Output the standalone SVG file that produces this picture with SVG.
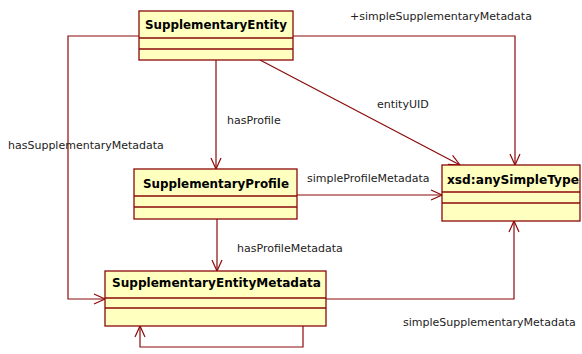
<svg xmlns="http://www.w3.org/2000/svg" width="582" height="354" viewBox="0 0 582 354">
<style>
.box{fill:#FFFFC0;stroke:#8B0A0A;stroke-width:1.3}
.sep{stroke:#8B0A0A;stroke-width:1.3}
.title{font-family:"DejaVu Sans",Verdana,sans-serif;font-size:11.5px;font-weight:bold;fill:#000;text-anchor:middle}
.lbl{font-family:"DejaVu Sans",Verdana,sans-serif;font-size:11px;fill:#222}
.conn{fill:none;stroke:#8B0A0A;stroke-width:1.2}
</style>
<defs>
<marker id="arr" markerUnits="userSpaceOnUse" markerWidth="14" markerHeight="14" viewBox="-12 -7 14 14" refX="0" refY="0" orient="auto">
<path d="M-11,-5 L0,0 L-11,5" fill="none" stroke="#8B0A0A" stroke-width="1.2"/>
</marker>
</defs>
<rect width="582" height="354" fill="#fff"/>
<g id="connectors">
<polyline class="conn" points="139,36 68,36 68,299 105,299" marker-end="url(#arr)"/>
<line class="conn" x1="216" y1="60" x2="216" y2="169" marker-end="url(#arr)"/>
<line class="conn" x1="260" y1="60" x2="460" y2="165" marker-end="url(#arr)"/>
<polyline class="conn" points="293,36 515,36 515,165" marker-end="url(#arr)"/>
<line class="conn" x1="297" y1="195" x2="442" y2="195" marker-end="url(#arr)"/>
<line class="conn" x1="217" y1="219" x2="217" y2="271" marker-end="url(#arr)"/>
<polyline class="conn" points="326,299 514,299 514,221" marker-end="url(#arr)"/>
<polyline class="conn" points="303,326 303,347 140,347 140,326" marker-end="url(#arr)"/>
<text class="lbl" x="8" y="149">hasSupplementaryMetadata</text>
<text class="lbl" x="227" y="124">hasProfile</text>
<text class="lbl" x="377" y="108">entityUID</text>
<text class="lbl" x="350" y="20">+simpleSupplementaryMetadata</text>
<text class="lbl" x="307" y="182">simpleProfileMetadata</text>
<text class="lbl" x="237" y="252">hasProfileMetadata</text>
<text class="lbl" x="403" y="326">simpleSupplementaryMetadata</text>
</g>
<g id="SupplementaryEntity">
<rect class="box" x="139" y="11" width="154" height="49"/>
<line class="sep" x1="139" y1="38" x2="293" y2="38"/>
<line class="sep" x1="139" y1="49" x2="293" y2="49"/>
<text class="title" x="216" y="29" textLength="142" lengthAdjust="spacingAndGlyphs">SupplementaryEntity</text>
</g>
<g id="SupplementaryProfile">
<rect class="box" x="134" y="169" width="163" height="50"/>
<line class="sep" x1="134" y1="196" x2="297" y2="196"/>
<line class="sep" x1="134" y1="207" x2="297" y2="207"/>
<text class="title" x="216" y="188" textLength="146" lengthAdjust="spacingAndGlyphs">SupplementaryProfile</text>
</g>
<g id="SupplementaryEntityMetadata">
<rect class="box" x="105" y="271" width="221" height="55"/>
<line class="sep" x1="105" y1="298" x2="326" y2="298"/>
<line class="sep" x1="105" y1="308" x2="326" y2="308"/>
<text class="title" x="216.5" y="287" textLength="209" lengthAdjust="spacingAndGlyphs">SupplementaryEntityMetadata</text>
</g>
<g id="anySimpleType">
<rect class="box" x="442" y="165" width="138" height="56"/>
<line class="sep" x1="442" y1="192" x2="580" y2="192"/>
<line class="sep" x1="442" y1="203" x2="580" y2="203"/>
<text class="title" x="513" y="184" textLength="132" lengthAdjust="spacingAndGlyphs">xsd:anySimpleType</text>
</g>
</svg>
